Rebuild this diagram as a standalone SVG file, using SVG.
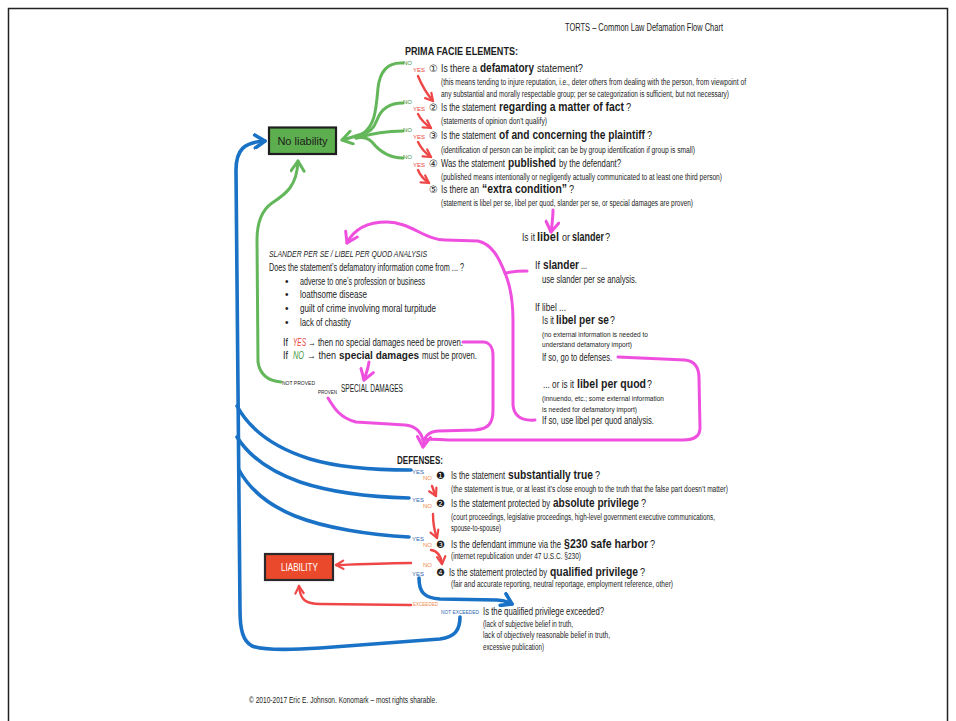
<svg xmlns="http://www.w3.org/2000/svg" width="956" height="721" viewBox="0 0 956 721">
<style>
.t{font-family:"Liberation Sans Narrow","Liberation Sans",Arial,sans-serif;fill:#1c1c1c}
.b{font-family:"Liberation Sans",Arial,sans-serif;font-weight:900}
.num{font-family:"DejaVu Sans",sans-serif;fill:#1c1c1c}
.q{font-size:11.5px}
.qb{font-size:12px}
.s{font-size:8.5px}
.m{font-size:10px}
.tiny{font-size:6px;font-family:"Liberation Sans Narrow","Liberation Sans",Arial,sans-serif}
.gn{fill:#3f8f3a}.ry{fill:#e8423a}.by{fill:#2f68b0}.on{fill:#ef8a4c}
.cg{fill:none;stroke:#63b75a;stroke-width:3;stroke-linecap:round;stroke-linejoin:round}
.cr{fill:none;stroke:#ef4747;stroke-width:2.4;stroke-linecap:round;stroke-linejoin:round}
.cb{fill:none;stroke:#1a72c6;stroke-width:3.6;stroke-linecap:round;stroke-linejoin:round}
.cm{fill:none;stroke:#ef4fdf;stroke-width:3;stroke-linecap:round;stroke-linejoin:round}
</style>
<defs>
<marker id="ar" viewBox="0 0 12 12" refX="10" refY="6" markerWidth="11" markerHeight="11" markerUnits="userSpaceOnUse" orient="auto"><path d="M2,1.5 L10,6 L2,10.5" fill="none" stroke="#ef4747" stroke-width="2.4" stroke-linecap="round" stroke-linejoin="round"/></marker>
<marker id="ag" viewBox="0 0 16 16" refX="13" refY="8" markerWidth="16" markerHeight="16" markerUnits="userSpaceOnUse" orient="auto"><path d="M3,1.5 L13,8 L3,14.5" fill="none" stroke="#63b75a" stroke-width="3" stroke-linecap="round" stroke-linejoin="round"/></marker>
<marker id="ab" viewBox="0 0 16 16" refX="13" refY="8" markerWidth="16" markerHeight="16" markerUnits="userSpaceOnUse" orient="auto"><path d="M3,1.5 L13,8 L3,14.5" fill="none" stroke="#1a72c6" stroke-width="3.6" stroke-linecap="round" stroke-linejoin="round"/></marker>
<marker id="am" viewBox="0 0 16 16" refX="13" refY="8" markerWidth="16" markerHeight="16" markerUnits="userSpaceOnUse" orient="auto"><path d="M3,1.5 L13,8 L3,14.5" fill="none" stroke="#ef4fdf" stroke-width="3" stroke-linecap="round" stroke-linejoin="round"/></marker>
</defs>
<rect x="0" y="0" width="956" height="721" fill="#ffffff"/>
<rect x="8.5" y="8.5" width="939" height="740" fill="none" stroke="#222" stroke-width="1.5"/>

<g id="connectors">
<path class="cg" d="M403,63 C388,62 380,70 378,88 C376,110 375,126 362,134"/>
<path class="cg" d="M403,103 C390,103 381,109 377,120 C374,128 370,133 362,134"/>
<path class="cg" d="M403,131 C385,131 370,134 356,138"/>
<path class="cg" d="M403,158 C390,158 380,152 372,142 C368,138 362,137 356,138"/>
<path class="cg" d="M362,134 C356,136 350,138 342,140" marker-end="url(#ag)"/>
<path class="cg" d="M281,382 C268,381 260,375 258,362 L257,240 C257,222 262,210 272,203 C286,194 297,186 298,161" marker-end="url(#ag)"/>
<path class="cr" d="M418,76 C422,86 427,94 433,101" marker-end="url(#ar)"/>
<path class="cr" d="M418,114 C421,120 425,124 431,128" marker-end="url(#ar)"/>
<path class="cr" d="M418,142 C421,148 425,153 431,157" marker-end="url(#ar)"/>
<path class="cr" d="M418,170 C420,175 423,179 429,183" marker-end="url(#ar)"/>
<path class="cm" d="M553,210 C553,218 552,225 551,232" marker-end="url(#am)"/>
<path class="cm" d="M535,420 C522,421 514,417 513,405 L513,320 C513,300 510,285 505,273 C499,258 492,244 478,241 L445,240 C425,240 410,222 387,222 C368,222 354,229 347,243" marker-end="url(#am)"/>
<path class="cm" d="M527,271 C518,271 510,272 505,273"/>
<path class="cm" d="M463,342 L483,342 C489,342 493,347 493,356 L493,410 C493,424 488,429 475,430 L438,431 C428,432 424,436 423,447" marker-end="url(#am)"/>
<path class="cm" d="M328,398 C334,408 340,418 356,422 L405,425 C416,426 421,432 423,440"/>
<path class="cm" d="M618,357 L685,360 C694,361 699,366 699,378 L700,428 C700,436 695,440 683,440 L455,440 C440,440 428,438 423,440"/>
<path class="cm" d="M369,362 C368,369 366,374 364,380" marker-end="url(#am)"/>
<path class="cb" d="M460,617 C460,630 455,637 440,639 L320,648 C290,650 262,650 252,646 C243,641 240,630 240,610 L236,170 C236,150 244,142 265,141" marker-end="url(#ab)"/>
<path class="cb" d="M411,470 C380,470 340,468 310,459 C275,448 250,430 237,406"/>
<path class="cb" d="M409,498 C370,497 330,492 300,482 C272,472 250,458 237,437"/>
<path class="cb" d="M409,537 C370,535 325,528 295,516 C268,505 250,490 239,470"/>
<path class="cb" d="M419,578 C419,592 424,598 440,599 L497,600 C503,600 508,602 512,604" marker-end="url(#ab)"/>
<path class="cr" d="M432,486 C433,489 434,492 436,496" marker-end="url(#ar)"/>
<path class="cr" d="M433,514 C433,522 434,530 437,538" marker-end="url(#ar)"/>
<path class="cr" d="M431,550 C437,551 441,555 442,564" marker-end="url(#ar)"/>
<path class="cr" d="M411,563 C390,563 365,564 336,565" marker-end="url(#ar)"/>
<path class="cr" d="M411,605 L320,604 C306,604 300,600 299,586" marker-end="url(#ar)"/>
</g>

<g id="title"><text class="t" x="565" y="31" font-size="10" textLength="158" lengthAdjust="spacingAndGlyphs">TORTS – Common Law Defamation Flow Chart</text></g>

<g id="prima-header"><text class="t b" x="405" y="55" font-size="10" textLength="113" lengthAdjust="spacingAndGlyphs">PRIMA FACIE ELEMENTS:</text></g>

<g id="no-liability">
<rect x="269" y="127.5" width="67" height="26.5" fill="#5cae4e" stroke="#1e1e1e" stroke-width="2.2"/>
<text class="t" x="302.5" y="145" font-size="11" text-anchor="middle">No liability</text>
</g>

<g id="pf1">
<text class="tiny gn" x="403" y="65">NO</text><text class="tiny ry" x="413" y="72">YES</text>
<text class="num" x="429" y="72" font-size="10">①</text>
<text class="t q" transform="translate(441,72) scale(0.7,1)" textLength="51.43" lengthAdjust="spacingAndGlyphs">Is there a</text>
<text class="t b qb" transform="translate(480,72) scale(0.8,1)" textLength="67.5" lengthAdjust="spacingAndGlyphs">defamatory</text>
<text class="t q" transform="translate(537,72) scale(0.7,1)" textLength="65.71" lengthAdjust="spacingAndGlyphs">statement?</text>
<text class="t s" x="441" y="84.5" textLength="305" lengthAdjust="spacingAndGlyphs">(this means tending to injure reputation, i.e., deter others from dealing with the person, from viewpoint of</text>
<text class="t s" x="441" y="96.5" textLength="288" lengthAdjust="spacingAndGlyphs">any substantial and morally respectable group; per se categorization is sufficient, but not necessary)</text>
</g>
<g id="pf2">
<text class="tiny gn" x="403" y="104">NO</text><text class="tiny ry" x="413" y="111">YES</text>
<text class="num" x="429" y="111" font-size="10">②</text>
<text class="t q" transform="translate(441,111) scale(0.7,1)" textLength="78.57" lengthAdjust="spacingAndGlyphs">Is the statement</text>
<text class="t b qb" transform="translate(499,111) scale(0.8,1)" textLength="156.25" lengthAdjust="spacingAndGlyphs">regarding a matter of fact</text>
<text class="t q" transform="translate(626,111) scale(0.8,1)">?</text>
<text class="t s" x="441" y="123.5" textLength="106" lengthAdjust="spacingAndGlyphs">(statements of opinion don’t qualify)</text>
</g>
<g id="pf3">
<text class="tiny gn" x="403" y="132">NO</text><text class="tiny ry" x="413" y="139">YES</text>
<text class="num" x="429" y="139" font-size="10">③</text>
<text class="t q" transform="translate(441,139) scale(0.7,1)" textLength="78.57" lengthAdjust="spacingAndGlyphs">Is the statement</text>
<text class="t b qb" transform="translate(499,139) scale(0.8,1)" textLength="182.5" lengthAdjust="spacingAndGlyphs">of and concerning the plaintiff</text>
<text class="t q" transform="translate(647,139) scale(0.8,1)">?</text>
<text class="t s" x="441" y="152.5" textLength="254" lengthAdjust="spacingAndGlyphs">(identification of person can be implicit;  can be by group identification if group is small)</text>
</g>
<g id="pf4">
<text class="tiny gn" x="403" y="159">NO</text><text class="tiny ry" x="413" y="167">YES</text>
<text class="num" x="429" y="167" font-size="10">④</text>
<text class="t q" transform="translate(441,167) scale(0.7,1)" textLength="91.43" lengthAdjust="spacingAndGlyphs">Was the statement</text>
<text class="t b qb" transform="translate(508,167) scale(0.8,1)" textLength="60" lengthAdjust="spacingAndGlyphs">published</text>
<text class="t q" transform="translate(559,167) scale(0.7,1)" textLength="88.57" lengthAdjust="spacingAndGlyphs">by the defendant?</text>
<text class="t s" x="441" y="180" textLength="281" lengthAdjust="spacingAndGlyphs">(published means intentionally or negligently actually communicated to at least one third person)</text>
</g>
<g id="pf5">
<text class="num" x="429" y="193" font-size="10">⑤</text>
<text class="t q" transform="translate(441,193) scale(0.7,1)" textLength="54.29" lengthAdjust="spacingAndGlyphs">Is there an</text>
<text class="t b qb" transform="translate(482,193) scale(0.8,1)" textLength="106.25" lengthAdjust="spacingAndGlyphs">“extra condition”</text>
<text class="t q" transform="translate(569,193) scale(0.8,1)">?</text>
<text class="t s" x="441" y="205.5" textLength="252" lengthAdjust="spacingAndGlyphs">(statement is libel per se, libel per quod, slander per se, or special damages are proven)</text>
</g>

<g id="libel-or-slander">
<text class="t" font-size="11.5" transform="translate(522,241) scale(0.7,1)" textLength="18.57" lengthAdjust="spacingAndGlyphs">Is it</text>
<text class="t b" font-size="12" transform="translate(537,241) scale(0.8,1)" textLength="27.5" lengthAdjust="spacingAndGlyphs">libel</text>
<text class="t" font-size="11.5" transform="translate(562,241) scale(0.7,1)" textLength="11.43" lengthAdjust="spacingAndGlyphs">or</text>
<text class="t b" font-size="12" transform="translate(572,241) scale(0.8,1)" textLength="40" lengthAdjust="spacingAndGlyphs">slander</text>
<text class="t" font-size="11.5" transform="translate(605,241) scale(0.8,1)">?</text>
<text class="t" font-size="11" transform="translate(535,269) scale(0.7,1)" textLength="7.14" lengthAdjust="spacingAndGlyphs">If</text>
<text class="t b" font-size="12" transform="translate(543,269) scale(0.8,1)" textLength="45" lengthAdjust="spacingAndGlyphs">slander</text>
<text class="t" font-size="11" transform="translate(581,269) scale(0.7,1)" textLength="8.57" lengthAdjust="spacingAndGlyphs">...</text>
<text class="t m" x="542" y="283" textLength="95" lengthAdjust="spacingAndGlyphs">use slander per se analysis.</text>
<text class="t m" x="535" y="311" textLength="31" lengthAdjust="spacingAndGlyphs">If libel ...</text>
<text class="t" font-size="11" transform="translate(542,324) scale(0.7,1)" textLength="17.14" lengthAdjust="spacingAndGlyphs">Is it</text>
<text class="t b" font-size="12" transform="translate(556,324) scale(0.8,1)" textLength="66.25" lengthAdjust="spacingAndGlyphs">libel per se</text>
<text class="t" font-size="11" transform="translate(610,324) scale(0.8,1)">?</text>
<text class="t" x="542" y="336.5" font-size="8" textLength="106" lengthAdjust="spacingAndGlyphs">(no external information is needed to</text>
<text class="t" x="542" y="346.5" font-size="8" textLength="90" lengthAdjust="spacingAndGlyphs">understand defamatory import)</text>
<text class="t" x="542" y="361" font-size="10.5" textLength="70" lengthAdjust="spacingAndGlyphs">If so, go to defenses.</text>
<text class="t" font-size="11" transform="translate(543,388) scale(0.7,1)" textLength="44.29" lengthAdjust="spacingAndGlyphs">... or is it</text>
<text class="t b" font-size="12" transform="translate(577,388) scale(0.8,1)" textLength="86.25" lengthAdjust="spacingAndGlyphs">libel per quod</text>
<text class="t" font-size="11" transform="translate(647,388) scale(0.8,1)">?</text>
<text class="t" x="542" y="400.5" font-size="8" textLength="122" lengthAdjust="spacingAndGlyphs">(innuendo, etc.; some external information</text>
<text class="t" x="542" y="411.5" font-size="8" textLength="95" lengthAdjust="spacingAndGlyphs">is needed for defamatory import)</text>
<text class="t" x="542" y="424" font-size="10.5" textLength="112" lengthAdjust="spacingAndGlyphs">If so, use libel per quod analysis.</text>
</g>

<g id="slander-analysis">
<text class="t" x="269" y="257" font-size="9.5" font-style="italic" textLength="158" lengthAdjust="spacingAndGlyphs">SLANDER PER SE / LIBEL PER QUOD ANALYSIS</text>
<text class="t m" transform="translate(269,271) scale(0.7,1)" textLength="278.57" lengthAdjust="spacingAndGlyphs">Does the statement’s defamatory information come from ... ?</text>
<text class="t m" x="285" y="285">•</text><text class="t m" x="300" y="285" textLength="125" lengthAdjust="spacingAndGlyphs">adverse to one’s profession or business</text>
<text class="t m" x="285" y="298">•</text><text class="t m" x="300" y="298" textLength="67" lengthAdjust="spacingAndGlyphs">loathsome disease</text>
<text class="t m" x="285" y="312">•</text><text class="t m" x="300" y="312" textLength="136" lengthAdjust="spacingAndGlyphs">guilt of crime involving moral turpitude</text>
<text class="t m" x="285" y="326">•</text><text class="t m" x="300" y="326" textLength="51" lengthAdjust="spacingAndGlyphs">lack of chastity</text>
<text class="t" font-size="10.5" transform="translate(283,346) scale(0.7,1)" textLength="7.14" lengthAdjust="spacingAndGlyphs">If</text>
<text class="t" font-size="10.5" font-style="italic" style="fill:#e8423a" transform="translate(293,346) scale(0.7,1)" textLength="18.57" lengthAdjust="spacingAndGlyphs">YES</text>
<text class="t" font-size="10.5" transform="translate(308,346) scale(0.7,1)" textLength="221.43" lengthAdjust="spacingAndGlyphs">→ then no special damages need be proven.</text>
<text class="t" font-size="10.5" transform="translate(283,359) scale(0.7,1)" textLength="7.14" lengthAdjust="spacingAndGlyphs">If</text>
<text class="t" font-size="10.5" font-style="italic" style="fill:#3f9a3a" transform="translate(293,359) scale(0.7,1)" textLength="15.71" lengthAdjust="spacingAndGlyphs">NO</text>
<text class="t" font-size="10.5" transform="translate(307,359) scale(0.7,1)" textLength="41.43" lengthAdjust="spacingAndGlyphs">→ then</text>
<text class="t b" font-size="11.5" transform="translate(339,359) scale(0.8,1)" textLength="100" lengthAdjust="spacingAndGlyphs">special damages</text>
<text class="t" font-size="10.5" transform="translate(422,359) scale(0.7,1)" textLength="78.57" lengthAdjust="spacingAndGlyphs">must be proven.</text>
</g>

<g id="special-damages">
<text class="tiny" x="282" y="385" fill="#1c1c1c" textLength="33" lengthAdjust="spacingAndGlyphs">NOT PROVED</text>
<text class="tiny" transform="translate(318,394) scale(0.8,1)" fill="#1c1c1c" textLength="23.75" lengthAdjust="spacingAndGlyphs">PROVEN</text>
<text class="t m" x="341" y="392" textLength="62" lengthAdjust="spacingAndGlyphs">SPECIAL DAMAGES</text>
</g>

<g id="defenses-header"><text class="t b" x="397" y="464" font-size="10" textLength="46" lengthAdjust="spacingAndGlyphs">DEFENSES:</text></g>

<g id="d1">
<text class="tiny by" x="412" y="474">YES</text><text class="tiny on" x="423" y="480">NO</text>
<text class="num" x="436" y="479" font-size="10">❶</text>
<text class="t q" transform="translate(451,479) scale(0.7,1)" textLength="77.14" lengthAdjust="spacingAndGlyphs">Is the statement</text>
<text class="t b qb" transform="translate(508,479) scale(0.8,1)" textLength="106.25" lengthAdjust="spacingAndGlyphs">substantially true</text>
<text class="t q" transform="translate(595,479) scale(0.8,1)">?</text>
<text class="t s" x="451" y="491.5" textLength="277" lengthAdjust="spacingAndGlyphs">(the statement is true, or at least it’s close enough to the truth that the false part doesn’t matter)</text>
</g>
<g id="d2">
<text class="tiny by" x="412" y="502">YES</text><text class="tiny on" x="423" y="508">NO</text>
<text class="num" x="436" y="507" font-size="10">❷</text>
<text class="t q" transform="translate(451,507) scale(0.7,1)" textLength="141.43" lengthAdjust="spacingAndGlyphs">Is the statement protected by</text>
<text class="t b qb" transform="translate(553,507) scale(0.8,1)" textLength="107.5" lengthAdjust="spacingAndGlyphs">absolute privilege</text>
<text class="t q" transform="translate(641,507) scale(0.8,1)">?</text>
<text class="t s" x="451" y="519.5" textLength="264" lengthAdjust="spacingAndGlyphs">(court proceedings, legislative proceedings, high-level government executive communications,</text>
<text class="t s" x="451" y="530.5" textLength="50" lengthAdjust="spacingAndGlyphs">spouse-to-spouse)</text>
</g>
<g id="d3">
<text class="tiny by" x="412" y="541">YES</text><text class="tiny on" x="423" y="547">NO</text>
<text class="num" x="436" y="548" font-size="10">❸</text>
<text class="t" font-size="11" transform="translate(451,548) scale(0.7,1)" textLength="157.14" lengthAdjust="spacingAndGlyphs">Is the defendant immune via the</text>
<text class="t b qb" transform="translate(564,548) scale(0.8,1)" textLength="105" lengthAdjust="spacingAndGlyphs">§230 safe harbor</text>
<text class="t q" transform="translate(650,548) scale(0.8,1)">?</text>
<text class="t s" x="451" y="558.5" textLength="130" lengthAdjust="spacingAndGlyphs">(internet republication under 47 U.S.C. §230)</text>
</g>
<g id="d4">
<text class="tiny on" x="423" y="567">NO</text><text class="tiny by" x="412" y="576">YES</text>
<text class="num" x="436" y="576" font-size="10">❹</text>
<text class="t" font-size="11.2" transform="translate(449,576) scale(0.7,1)" textLength="140" lengthAdjust="spacingAndGlyphs">Is the statement protected by</text>
<text class="t b qb" transform="translate(550,576) scale(0.8,1)" textLength="110" lengthAdjust="spacingAndGlyphs">qualified privilege</text>
<text class="t q" transform="translate(640,576) scale(0.8,1)">?</text>
<text class="t s" x="451" y="586.5" textLength="222" lengthAdjust="spacingAndGlyphs">(fair and accurate reporting, neutral reportage, employment reference, other)</text>
</g>

<g id="liability">
<rect x="265" y="554" width="68" height="26" fill="#ea4a2b" stroke="#2a2a2a" stroke-width="2.2"/>
<text class="t" x="299.5" y="571" font-size="10.5" style="fill:#ffffff" text-anchor="middle" textLength="37" lengthAdjust="spacingAndGlyphs">LIABILITY</text>
</g>

<g id="exceeded">
<text class="tiny on" x="413" y="606" textLength="25" lengthAdjust="spacingAndGlyphs">EXCEEDED</text>
<text class="tiny by" transform="translate(441,614) scale(0.75,1)" textLength="50.67" lengthAdjust="spacingAndGlyphs">NOT EXCEEDED</text>
<text class="t" x="483" y="615" font-size="11.5" textLength="121" lengthAdjust="spacingAndGlyphs">Is the qualified privilege exceeded?</text>
<text class="t s" x="483" y="626.5" textLength="90" lengthAdjust="spacingAndGlyphs">(lack of subjective belief in truth,</text>
<text class="t s" x="483" y="637.5" textLength="127" lengthAdjust="spacingAndGlyphs">lack of objectively reasonable belief in truth,</text>
<text class="t s" x="483" y="649.5" textLength="61" lengthAdjust="spacingAndGlyphs">excessive publication)</text>
</g>

<g id="footer"><text class="t" x="249" y="703" font-size="9" textLength="188" lengthAdjust="spacingAndGlyphs">© 2010-2017 Eric E. Johnson. Konomark – most rights sharable.</text></g>
</svg>
